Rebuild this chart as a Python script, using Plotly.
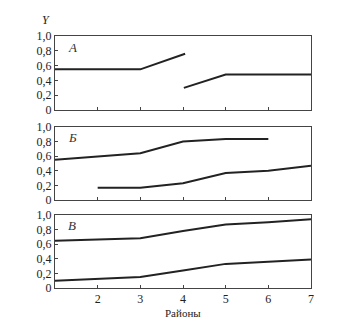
import plotly.graph_objects as go
from plotly.subplots import make_subplots

# Panel A
a1_x = [1, 3, 4.05]
a1_y = [0.55, 0.55, 0.76]
a2_x = [4.02, 5, 7]
a2_y = [0.30, 0.48, 0.48]
# Panel Б
b1_x = [1, 2, 3, 4, 5, 6]
b1_y = [0.55, 0.59, 0.64, 0.80, 0.835, 0.835]
b2_x = [2, 3, 4, 5, 6, 7]
b2_y = [0.17, 0.17, 0.23, 0.37, 0.40, 0.47]
# Panel В
c1_x = [1, 2, 3, 4, 5, 6, 7]
c1_y = [0.645, 0.66, 0.68, 0.78, 0.87, 0.90, 0.94]
c2_x = [1, 2, 3, 4, 5, 6, 7]
c2_y = [0.10, 0.12, 0.15, 0.24, 0.33, 0.36, 0.39]

y_tickvals = [0, 0.2, 0.4, 0.6, 0.8, 1.0]
y_ticktext = ["0", "0,2", "0,4", "0,6", "0,8", "1,0"]
x_tickvals = [2, 3, 4, 5, 6, 7]
x_ticktext = ["2", "3", "4", "5", "6", "7"]
panel_labels = ["A", "Б", "В"]

fig = make_subplots(rows=3, cols=1)
line = dict(color="#222", width=2)
series = [
    (1, a1_x, a1_y), (1, a2_x, a2_y),
    (2, b1_x, b1_y), (2, b2_x, b2_y),
    (3, c1_x, c1_y), (3, c2_x, c2_y),
]
for r, xs, ys in series:
    fig.add_trace(go.Scatter(x=xs, y=ys, mode="lines", line=line, showlegend=False), row=r, col=1)

domains = [[0.706, 1.0], [0.349, 0.639], [0.0, 0.290]]
font = dict(family="Liberation Serif", size=12, color="#222")
for i in range(3):
    sfx = "" if i == 0 else str(i + 1)
    fig.layout["yaxis" + sfx].update(
        domain=domains[i], range=[0, 1.0], tickvals=y_tickvals, ticktext=y_ticktext,
        showgrid=False, zeroline=False, showline=True, linecolor="#444", linewidth=1,
        mirror=True, ticks="inside", ticklen=3, tickcolor="#444", tickfont=font,
    )
    fig.layout["xaxis" + sfx].update(
        range=[1, 7], tickvals=x_tickvals, ticktext=x_ticktext if i == 2 else [""] * 6,
        showgrid=False, zeroline=False, showline=True, linecolor="#444", linewidth=1,
        mirror=True, ticks="inside", ticklen=3, tickcolor="#444", tickfont=font,
    )
    fig.add_annotation(x=1.4, y=0.85, xref="x" + sfx, yref="y" + sfx, text="<i>" + panel_labels[i] + "</i>",
                       showarrow=False, font=dict(family="Liberation Serif", size=13, color="#333"))

fig.add_annotation(xref="paper", yref="paper", x=(46 - 55) / 256, y=1 + (36 - 20) / 252,
                   xanchor="center", yanchor="middle", text="<i>Y</i>", showarrow=False,
                   font=dict(family="Liberation Serif", size=12, color="#222"))
fig.add_annotation(xref="paper", yref="paper", x=(183 - 55) / 256, y=-(313 - 288) / 252,
                   xanchor="center", yanchor="middle", text="Районы", showarrow=False,
                   font=dict(family="Liberation Serif", size=11, color="#222"))

fig.update_layout(width=350, height=319, margin=dict(l=55, r=39, t=36, b=31),
                  plot_bgcolor="white", paper_bgcolor="white")
fig.write_html("out.html")
